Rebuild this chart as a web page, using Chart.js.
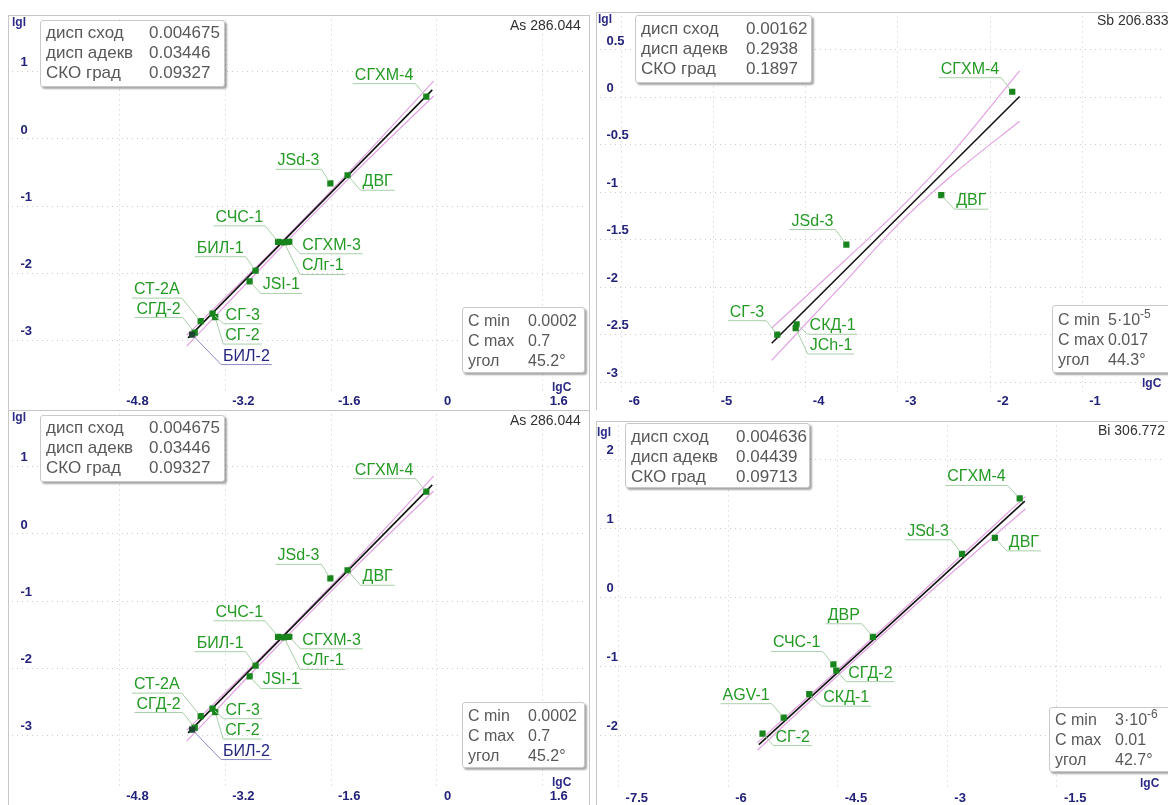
<!DOCTYPE html>
<html>
<head>
<meta charset="utf-8">
<script src="https://cdn.jsdelivr.net/npm/chart.js@4.4.1/dist/chart.umd.min.js"></script>
<style>
  html, body { margin: 0; padding: 0; background: #fff; width: 1168px; height: 805px; overflow: hidden;
    font-family: "Liberation Sans", Arial, sans-serif; }
  .panel { position: absolute; }
  .panel canvas { position: absolute; left: 0; top: 0; }
  .rule { position: absolute; background: #c6c6c6; }
  .box { position: absolute; background: #fff; border: 1px solid #c9c9c9; border-radius: 3px;
    box-shadow: 2px 2px 2px rgba(0,0,0,0.35); color: #585858; font-size: 17px; line-height: 20px;
    box-sizing: border-box; white-space: nowrap; }
  .box.small { font-size: 16px; }
  .box .row { display: flex; }
  .box .k { display: inline-block; }
  .box sup { font-size: 12px; line-height: 0; vertical-align: 7px; }
  .title { position: absolute; font-size: 14px; color: #303030; white-space: nowrap; transform: translateY(-50%); }
  .axt { position: absolute; font-size: 12px; font-weight: bold; color: #2a2a86; transform: translateY(-50%); }
</style>
</head>
<body>
<div id="root"></div>
<script>
// ---------- As 286.044 ----------
const asNames = ['СГХМ-4', 'JSd-3', 'ДВГ', 'СЧС-1', 'СЛг-1', 'СГХМ-3', 'БИЛ-1', 'JSI-1', 'СТ-2А', 'СГД-2', 'СГ-3', 'СГ-2', 'БИЛ-2'];
const asLgC   = [-0.16, -1.61, -1.35, -2.40, -2.31, -2.23, -2.74, -2.83, -3.57, -3.66, -3.39, -3.35, -3.70];
const asLgI   = [0.63, -0.66, -0.54, -1.53, -1.54, -1.53, -1.96, -2.12, -2.71, -2.88, -2.60, -2.65, -2.91];
const asFitC  = [-3.76, -0.07];
const asFitI  = [-2.96, 0.73];
const asBandC = [-3.78, -2.4, -1.2, -0.05];
const asBandUp = [-2.92, -1.58, -0.36, 0.86];
const asBandLo = [-3.08, -1.66, -0.46, 0.64];
const asXTicks = [-4.8, -3.2, -1.6, 0, 1.6];
const asYTicks = [1, 0, -1, -2, -3];
const asStats = ['0.004675', '0.03446', '0.09327'];
const asRange = ['0.0002', '0.7', '45.2°'];

// ---------- Sb 206.833 ----------
const sbNames = ['СГХМ-4', 'ДВГ', 'JSd-3', 'СГ-3', 'СКД-1', 'JCh-1'];
const sbLgC   = [-1.76, -2.53, -3.56, -4.31, -4.10, -4.11];
const sbLgI   = [0.06, -1.03, -1.55, -2.50, -2.39, -2.43];
const sbFitC  = [-4.37, -1.68];
const sbFitI  = [-2.59, 0.01];
const sbBandC = [-4.37, -3.6, -3.0, -2.4, -1.68];
const sbBandUp = [-2.43, -1.74, -1.19, -0.57, 0.28];
const sbBandLo = [-2.77, -1.97, -1.34, -0.81, -0.25];
const sbXTicks = [-6, -5, -4, -3, -2, -1];
const sbYTicks = [0.5, 0, -0.5, -1, -1.5, -2, -2.5, -3];
const sbStats = ['0.00162', '0.2938', '0.1897'];
const sbRange = ['5·10<sup>-5</sup>', '0.017', '44.3°'];

// ---------- Bi 306.772 ----------
const biNames = ['СГХМ-4', 'JSd-3', 'ДВГ', 'ДВР', 'СЧС-1', 'СГД-2', 'СКД-1', 'AGV-1', 'СГ-2'];
const biLgC   = [-2.01, -2.80, -2.35, -4.02, -4.56, -4.52, -4.89, -5.24, -5.53];
const biLgI   = [1.43, 0.63, 0.86, -0.57, -0.97, -1.06, -1.40, -1.74, -1.97];
const biFitC  = [-5.58, -1.94];
const biFitI  = [-2.13, 1.39];
const biBandC = [-5.6, -4.5, -3.3, -1.93];
const biBandUp = [-2.10, -1.05, 0.12, 1.46];
const biBandLo = [-2.21, -1.13, 0.02, 1.28];
const biXTicks = [-7.5, -6, -4.5, -3, -1.5];
const biYTicks = [2, 1, 0, -1, -2];
const biStats = ['0.004636', '0.04439', '0.09713'];
const biRange = ['3·10<sup>-6</sup>', '0.01', '42.7°'];

const statKeys = ['дисп сход', 'дисп адекв', 'СКО град'];
const rangeKeys = ['C min', 'C max', 'угол'];

// where each sample tag sits relative to its point: [dx, dy, side]
const asTagPlace = {
  'СГХМ-4': [-11, -13, 'L'], 'JSd-3': [-9, -14, 'L'], 'ДВГ': [13, 15, 'R'],
  'СЧС-1': [-13, -16, 'L'], 'СЛг-1': [16, 32, 'R'], 'СГХМ-3': [11, 12, 'R'],
  'БИЛ-1': [-10, -14, 'L'], 'JSI-1': [11, 12, 'R'], 'СТ-2А': [-19, -23, 'L'],
  'СГД-2': [-12, -15, 'L'], 'СГ-3': [11, 10, 'R'], 'СГ-2': [8, 27, 'R'], 'БИЛ-2': [29, 30, 'R']
};
const sbTagPlace = {
  'СГХМ-4': [-11, -14, 'L'], 'ДВГ': [13, 14, 'R'], 'JSd-3': [-11, -15, 'L'],
  'СГ-3': [-11, -14, 'L'], 'СКД-1': [11, 10, 'R'], 'JCh-1': [12, 26, 'R']
};
const biTagPlace = {
  'СГХМ-4': [-12, -13, 'L'], 'JSd-3': [-11, -14, 'L'], 'ДВГ': [12, 13, 'R'],
  'ДВР': [-11, -13, 'L'], 'СЧС-1': [-11, -13, 'L'], 'СГД-2': [10, 11, 'R'],
  'СКД-1': [12, 12, 'R'], 'AGV-1': [-12, -14, 'L'], 'СГ-2': [11, 12, 'R']
};

const FONT = '"Liberation Sans", Arial, sans-serif';
Chart.defaults.font.family = FONT;

const zip = (xs, ys) => xs.map((x, i) => ({ x, y: ys[i] }));

// sample names with leader line and underline
const pointTags = {
  id: 'pointTags',
  afterDatasetsDraw(chart) {
    const ctx = chart.ctx;
    chart.data.datasets.forEach((ds, di) => {
      if (!ds.tags) return;
      const meta = chart.getDatasetMeta(di);
      ctx.save();
      ctx.font = '16px ' + FONT;
      ctx.textBaseline = 'alphabetic';
      ctx.lineWidth = 1;
      meta.data.forEach((el, i) => {
        const name = ds.tags[i];
        const pl = ds.tagPlace[name];
        if (!pl) return;
        const [dx, dy, side] = pl;
        const ex = el.x + dx, ey = el.y + dy;
        const w = ctx.measureText(name).width;
        const x1 = side === 'L' ? ex - w - 4 : ex + w + 4;
        const hl = ds.highlight === name;
        const len = Math.hypot(dx, dy) || 1;
        ctx.strokeStyle = hl ? '#8c8cc8' : '#a9cfa9';
        ctx.beginPath();
        ctx.moveTo(el.x + dx / len * 3, el.y + dy / len * 3);
        ctx.lineTo(ex, ey);
        ctx.lineTo(x1, ey);
        ctx.stroke();
        ctx.fillStyle = hl ? '#262680' : '#249a24';
        ctx.textAlign = side === 'L' ? 'right' : 'left';
        ctx.fillText(name, side === 'L' ? ex - 2 : ex + 2, ey - 4);
      });
      ctx.restore();
    });
  }
};

function axisFont() { return { size: 13, weight: 'bold' }; }

function makeChart(canvas, p) {
  const grid = { color: '#cbcbcb', lineWidth: 1, drawTicks: false };
  const border = { display: false, dash: [1, 4] };
  return new Chart(canvas, {
    type: 'scatter',
    data: {
      datasets: [
        {
          data: zip(p.c, p.i), order: 0,
          tags: p.names, tagPlace: p.place, highlight: p.highlight,
          pointStyle: 'rect', pointRadius: 4.4, pointHoverRadius: 4.4,
          backgroundColor: p.names.map(n => n === p.highlight ? '#1c4630' : '#17851c'),
          borderColor: p.names.map(n => n === p.highlight ? '#1c4630' : '#17851c'),
          borderWidth: 0
        },
        {
          type: 'line', data: zip(p.fitC, p.fitI), order: 1,
          borderColor: '#141414', borderWidth: 1.6, pointRadius: 0, fill: false
        },
        {
          type: 'line', data: zip(p.bandC, p.bandUp), order: 2,
          borderColor: '#e3a3e3', borderWidth: 1.2, pointRadius: 0, fill: false, cubicInterpolationMode: 'monotone'
        },
        {
          type: 'line', data: zip(p.bandC, p.bandLo), order: 2,
          borderColor: '#e3a3e3', borderWidth: 1.2, pointRadius: 0, fill: false, cubicInterpolationMode: 'monotone'
        }
      ]
    },
    options: {
      responsive: false, animation: false, devicePixelRatio: 1,
      layout: { padding: 0 },
      plugins: { legend: { display: false }, tooltip: { enabled: false } },
      events: [],
      scales: {
        x: {
          type: 'linear', position: 'bottom', min: p.xMin, max: p.xMax,
          grid, border,
          afterBuildTicks: s => { s.ticks = p.xTicks.map(v => ({ value: v })); },
          afterFit: s => { s.height = 18; s.paddingLeft = 0; s.paddingRight = 0; },
          ticks: { autoSkip: false, maxRotation: 0, align: 'start', labelOffset: 7, padding: 2,
            color: '#22227a', font: axisFont(), callback: v => String(v) }
        },
        y: {
          type: 'linear', position: 'left', min: p.yMin, max: p.yMax,
          grid, border,
          afterBuildTicks: s => { s.ticks = p.yTicks.map(v => ({ value: v })); },
          afterFit: s => { s.width = 0; s.paddingTop = 0; s.paddingBottom = 0; },
          ticks: { autoSkip: false, mirror: true, crossAlign: 'near', padding: p.yPad, labelOffset: -9,
            color: '#22227a', font: axisFont(), callback: v => String(v) }
        }
      }
    },
    plugins: [pointTags]
  });
}

const root = document.getElementById('root');
function el(tag, cls, css, html) {
  const e = document.createElement(tag);
  if (cls) e.className = cls;
  Object.assign(e.style, css);
  if (html !== undefined) e.innerHTML = html;
  root.appendChild(e);
  return e;
}

function infoBox(cls, left, top, w, h, keyW, keys, vals, padTop) {
  const b = el('div', cls, { left: left + 'px', top: top + 'px', width: w + 'px', height: h + 'px',
    paddingLeft: '5px', paddingTop: padTop + 'px' });
  b.innerHTML = keys.map((k, i) =>
    `<div class="row"><span class="k" style="width:${keyW}px">${k}</span><span>${vals[i]}</span></div>`).join('');
}

function panel(def) {
  const wrap = el('div', 'panel', { left: def.left + 'px', top: def.top + 'px', width: def.w + 'px', height: def.h + 'px' });
  const cv = document.createElement('canvas');
  cv.width = def.w; cv.height = def.h;
  cv.style.width = def.w + 'px'; cv.style.height = def.h + 'px';
  wrap.appendChild(cv);
  makeChart(cv, def);
  // frame lines
  el('div', 'rule', { left: def.left + 'px', top: def.top + 'px', width: def.w + 'px', height: '1px' });
  el('div', 'rule', { left: def.left + 'px', top: def.top + 'px', width: '1px', height: def.h + 'px' });
}

const asCommon = {
  names: asNames, c: asLgC, i: asLgI, fitC: asFitC, fitI: asFitI,
  bandC: asBandC, bandUp: asBandUp, bandLo: asBandLo,
  xTicks: asXTicks, yTicks: asYTicks, place: asTagPlace, highlight: 'БИЛ-2',
  xMin: -6.415, xMax: 2.232, yMin: -3.765, yMax: 1.779, yPad: 8
};

// As, upper and lower copies
[0, 395].forEach(off => {
  panel(Object.assign({ left: 8, top: 15 + off, w: 581, h: 395 }, asCommon));
  infoBox('box', 40, 20 + off, 185, 67, 103, statKeys, asStats, 2);
  infoBox('box small', 462, 307 + off, 123, 66, 60, rangeKeys, asRange, 3);
  el('div', 'title', { left: '510px', top: (25 + off) + 'px' }, 'As 286.044');
  el('div', 'axt', { left: '12px', top: (22 + off) + 'px' }, 'lgl');
  el('div', 'axt', { left: '552px', top: (387 + off) + 'px' }, 'lgC');
});
el('div', 'rule', { left: '589px', top: '15px', width: '1px', height: '790px' });

// Sb
panel({ left: 596, top: 12, w: 572, h: 398,
  names: sbNames, c: sbLgC, i: sbLgI, fitC: sbFitC, fitI: sbFitI,
  bandC: sbBandC, bandUp: sbBandUp, bandLo: sbBandLo,
  xTicks: sbXTicks, yTicks: sbYTicks, place: sbTagPlace, highlight: null,
  xMin: -6.229, xMax: -0.1175, yMin: -3.104, yMax: 0.854, yPad: 6 });
infoBox('box', 635, 15, 177, 68, 105, statKeys, sbStats, 3);
infoBox('box small', 1052, 305, 120, 68, 50, rangeKeys, sbRange, 4);
el('div', 'title', { left: '1097px', top: '20px' }, 'Sb 206.833');
el('div', 'axt', { left: '598px', top: '19px' }, 'lgl');
el('div', 'axt', { left: '1142px', top: '383px' }, 'lgC');

// Bi
panel({ left: 596, top: 421, w: 572, h: 386,
  names: biNames, c: biLgC, i: biLgI, fitC: biFitC, fitI: biFitI,
  bandC: biBandC, bandUp: biBandUp, bandLo: biBandLo,
  xTicks: biXTicks, yTicks: biYTicks, place: biTagPlace, highlight: null,
  xMin: -7.749, xMax: -0.0404, yMin: -2.771, yMax: 2.486, yPad: 6 });
infoBox('box', 625, 423, 185, 65, 105, statKeys, biStats, 3);
infoBox('box small', 1049, 707, 125, 65, 60, rangeKeys, biRange, 2);
el('div', 'title', { left: '1098px', top: '430px' }, 'Bi 306.772');
el('div', 'axt', { left: '597px', top: '432px' }, 'lgl');
el('div', 'axt', { left: '1140px', top: '783px' }, 'lgC');
</script>
</body>
</html>
